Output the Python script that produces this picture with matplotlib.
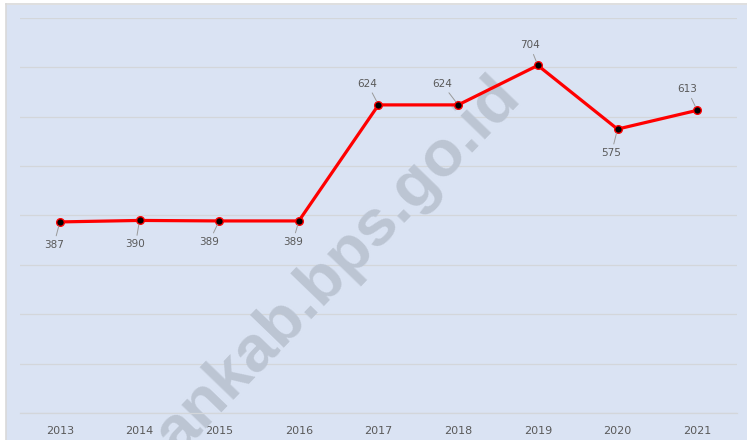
import matplotlib.pyplot as plt
from matplotlib.patches import Rectangle
from matplotlib.lines import Line2D

# data
years = ['2013', '2014', '2015', '2016', '2017', '2018', '2019', '2020', '2021']
values = [387, 390, 389, 389, 624, 624, 704, 575, 613]
# label offsets (pixels) relative to each point
label_dx = [-6, -4, -10, -6, -11, -16, -8, -6, -10]
label_dy = [-23, -24, -21, -21, 21, 21, 20, -24, 21]

BG = '#dae3f3'
TXT = '#595959'

fig = plt.figure(figsize=(7.47, 4.4), dpi=100)
fig.patch.set_facecolor('white')

# chart area background with thin border on top/left
fig.patches.append(Rectangle((6 / 747, 0), 1, (440 - 5) / 440, transform=fig.transFigure,
                             facecolor=BG, edgecolor='none', zorder=-5))
fig.lines.append(Line2D([5.5 / 747, 5.5 / 747], [0, (440 - 4.5) / 440], transform=fig.transFigure,
                        color='#d9d9d9', lw=1.2, zorder=-4))
fig.lines.append(Line2D([5.5 / 747, 1], [(440 - 4.5) / 440] * 2, transform=fig.transFigure,
                        color='#d9d9d9', lw=1.2, zorder=-4))

ax = fig.add_axes([20 / 747, 27 / 440, 717 / 747, 395 / 440])
ax.set_facecolor('none')
x = list(range(len(years)))
ax.set_xlim(-0.5, len(years) - 0.5)
ax.set_ylim(0, 800)
ax.set_yticks(range(0, 801, 100))
ax.yaxis.grid(True, color='#d3d6da', lw=0.9)
ax.set_axisbelow(True)
ax.tick_params(axis='y', left=False, labelleft=False)
ax.tick_params(axis='x', bottom=False, labelsize=8, labelcolor=TXT, pad=6)
ax.set_xticks(x)
ax.set_xticklabels(years)
for s in ax.spines.values():
    s.set_visible(False)
ax.spines['bottom'].set_visible(True)
ax.spines['bottom'].set_color('#d3d6da')
ax.spines['bottom'].set_linewidth(0.9)

ax.plot(x, values, color='#ff0000', lw=2.3, marker='o', markersize=5.5,
        markerfacecolor='black', markeredgecolor='#ff0000', markeredgewidth=1.0, zorder=3)

for xi, v, dx, dy in zip(x, values, label_dx, label_dy):
    ax.annotate(str(v), xy=(xi, v), xytext=(dx, dy), textcoords='offset pixels',
                ha='center', va='center', fontsize=7.5, color=TXT,
                arrowprops=dict(arrowstyle='-', color='#9a9a9a', lw=0.7,
                                shrinkA=1, shrinkB=3), zorder=4)

# watermark (behind the line)
ax.text(338 / 747, 1 - 266 / 440, 'ankab.bps.go.id', transform=fig.transFigure,
        fontsize=47, fontweight='bold', family='Liberation Sans', color='#bcc5d3',
        rotation=46, rotation_mode='anchor', ha='center', va='center',
        zorder=1, clip_on=False)

fig.savefig('out.png', dpi=100)
